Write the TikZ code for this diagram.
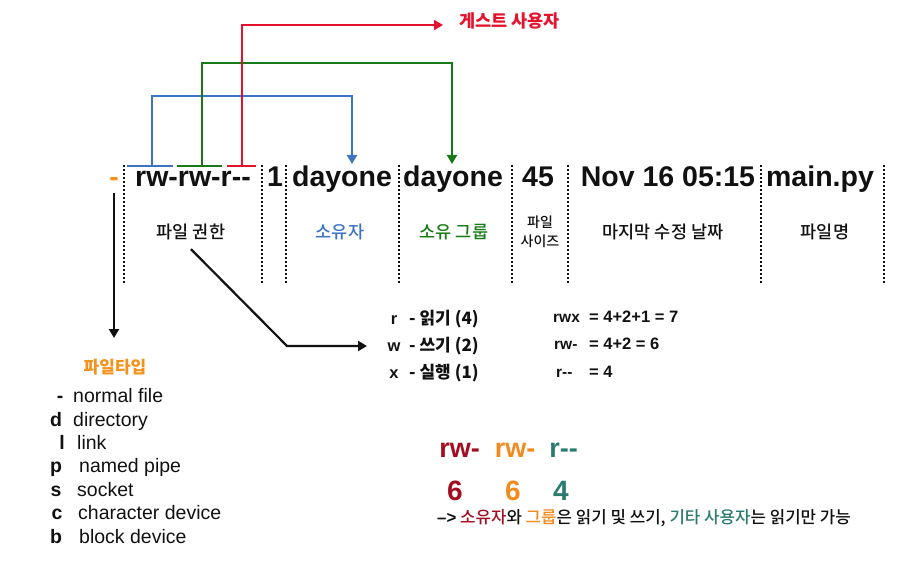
\documentclass[tikz,border=0pt]{standalone}
\usepackage{fontspec}
\setmainfont{Noto Sans CJK KR}
\newfontfamily\krmed{Noto Sans CJK KR Medium}
\newfontfamily\lat{Liberation Sans}
\usetikzlibrary{arrows.meta}
\definecolor{ink}{HTML}{111111}
\definecolor{ownblue}{HTML}{3A74C4}
\definecolor{grpgreen}{HTML}{187A16}
\definecolor{gstred}{HTML}{E4122C}
\definecolor{typeorange}{HTML}{F3931E}
\definecolor{ownred}{HTML}{A20E22}
\definecolor{grporange}{HTML}{F38A1D}
\definecolor{othteal}{HTML}{2B7A6F}

\begin{document}
\begin{tikzpicture}[
  x=1pt,y=-1pt,
  hdr/.style={font=\lat\bfseries\fontsize{28.5}{30}\selectfont,text=ink,anchor=base,inner sep=0pt},
  lbl/.style={font=\krmed\fontsize{17.5}{20}\selectfont,text=ink,align=center,inner sep=0pt},
  sep/.style={draw=ink,line width=2pt,dash pattern=on 2pt off 2pt},
  conn/.style={line width=2.2pt},
  arr/.style={conn,-{Triangle[length=9pt,width=10pt]}},
  item/.style={font=\lat\fontsize{19.5}{22}\selectfont,text=ink,anchor=mid west,inner sep=0pt},
  key/.style={font=\lat\bfseries\fontsize{19.5}{22}\selectfont,text=ink,anchor=mid,inner sep=0pt},
  bit/.style={font=\bfseries\fontsize{17}{19}\selectfont,text=ink,anchor=mid west,inner sep=0pt},
  eq/.style={font=\lat\bfseries\fontsize{16.5}{19}\selectfont,text=ink,anchor=mid west,inner sep=0pt},
  big/.style={font=\lat\bfseries\fontsize{27}{30}\selectfont,anchor=base,inner sep=0pt}
]
\useasboundingbox (0,0) rectangle (913,572);

% ls -l output line
\node[hdr,text=typeorange] (ftype) at (114,187) {-};
\node[hdr] (perm) at (193,187) {rw-rw-r--};
\node[hdr] (links) at (275,187) {1};
\node[hdr] (owner) at (342,187) {dayone};
\node[hdr] (group) at (453,187) {dayone};
\node[hdr] (size) at (538,187) {45};
\node[hdr] (mtime) at (668,187) {Nov 16 05:15};
\node[hdr] (fname) at (820,187) {main.py};

% column separators
\draw[sep] (124,165) -- (124,284);
\draw[sep] (262,165) -- (262,284);
\draw[sep] (286,165) -- (286,284);
\draw[sep] (398.5,165) -- (398.5,284);
\draw[sep] (512,165) -- (512,284);
\draw[sep] (568,165) -- (568,284);
\draw[sep] (761,165) -- (761,284);
\draw[sep] (884,165) -- (884,284);

% column labels
\node[lbl] (permlbl) at (191,232) {파일 권한};
\node[lbl,text=ownblue] (ownlbl) at (340,232) {소유자};
\node[lbl,text=grpgreen] (grplbl) at (454,232) {소유 그룹};
\node[lbl,font=\krmed\fontsize{14}{19.5}\selectfont] (sizelbl) at (540,232) {파일\\사이즈};
\node[lbl] (mtimelbl) at (663,232) {마지막 수정 날짜};
\node[lbl] (fnamelbl) at (825,232) {파일명};

% owner / group / other brackets
\coordinate (ownL) at (127,166);
\coordinate (ownR) at (173,166);
\coordinate (ownM) at (152,166);
\coordinate (ownTop) at (352,96);
\coordinate (ownIn) at (352,164);
\coordinate (grpL) at (177,166);
\coordinate (grpR) at (222,166);
\coordinate (grpM) at (202,166);
\coordinate (grpTop) at (452,63);
\coordinate (grpIn) at (452,164);
\coordinate (gstL) at (227,166);
\coordinate (gstR) at (256,166);
\coordinate (gstM) at (242,166);
\coordinate (gstEnd) at (443,25);
\node[font=\bfseries\fontsize{17.5}{20}\selectfont,text=gstred,anchor=mid west,inner sep=0pt] (guest) at (459,25) {게스트 사용자};

\draw[conn,ownblue] (ownL) -- (ownR);
\draw[arr,ownblue] (ownM) |- (ownTop) -- (ownIn);
\draw[conn,grpgreen] (grpL) -- (grpR);
\draw[arr,grpgreen] (grpM) |- (grpTop) -- (grpIn);
\draw[conn,gstred] (gstL) -- (gstR);
\draw[arr,gstred] (gstM) |- (gstEnd);

% file type legend
\coordinate (typeIn) at (114,338);
\node[font=\bfseries\fontsize{17}{20}\selectfont,text=typeorange] (typehdr) at (115,367) {파일타입};
\draw[arr,ink] (ftype.south) ++(0,6) -- (typeIn);

\node[key] (k1) at (60,400) {-};
\node[item] (t1) at (73,400) {normal file};
\node[key] (k2) at (56,423.4) {d};
\node[item] (t2) at (73,423.4) {directory};
\node[key] (k3) at (62,446.8) {l};
\node[item] (t3) at (77,446.8) {link};
\node[key] (k4) at (56,470.2) {p};
\node[item] (t4) at (79,470.2) {named pipe};
\node[key] (k5) at (56,493.6) {s};
\node[item] (t5) at (77,493.6) {socket};
\node[key] (k6) at (57,517) {c};
\node[item] (t6) at (78,517) {character device};
\node[key] (k7) at (56,540.4) {b};
\node[item] (t7) at (79,540.4) {block device};

% permission bits
\coordinate (bend) at (287,346);
\coordinate (rwxIn) at (367,346);
\draw[arr,ink] ([yshift=-9pt]permlbl.south) -- (bend) -- (rwxIn);

\node[eq,anchor=mid] (rk) at (394,322) {r};
\node[bit] (rv) at (409,322) {- 읽기 (4)};
\node[eq,anchor=mid] (wk) at (394,349) {w};
\node[bit] (wv) at (409,349) {- 쓰기 (2)};
\node[eq,anchor=mid] (xk) at (394,376) {x};
\node[bit] (xv) at (409,376) {- 실행 (1)};

\node[eq,font=\lat\bfseries\fontsize{15.5}{19}\selectfont] (eq1k) at (553,320) {rwx};
\node[eq] (eq1v) at (589,320) {= 4+2+1 = 7};
\node[eq,font=\lat\bfseries\fontsize{15.5}{19}\selectfont] (eq2k) at (554,347) {rw-};
\node[eq] (eq2v) at (589,347) {= 4+2 = 6};
\node[eq,font=\lat\bfseries\fontsize{15.5}{19}\selectfont] (eq3k) at (556,375) {r--};
\node[eq] (eq3v) at (589,375) {= 4};

% example 664
\node[big,text=ownred] (ownbits) at (459.5,457) {rw-};
\node[big,text=grporange] (grpbits) at (515,457) {rw-};
\node[big,text=othteal] (othbits) at (563.5,457) {r--};
\node[big,text=ownred,font=\lat\bfseries\fontsize{28}{30}\selectfont] (ownnum) at (455,500) {6};
\node[big,text=grporange,font=\lat\bfseries\fontsize{28}{30}\selectfont] (grpnum) at (513,500) {6};
\node[big,text=othteal,font=\lat\bfseries\fontsize{28}{30}\selectfont] (othnum) at (561,500) {4};
\node[font=\krmed\fontsize{16.8}{18}\selectfont,text=ink,anchor=mid west,inner sep=0pt] (summary) at (437,521)
  {{\lat\bfseries –>} \textcolor{ownred}{소유자}와 \textcolor{grporange}{그룹}은 읽기 및 쓰기, \textcolor{othteal}{기타 사용자}는 읽기만 가능};
\end{tikzpicture}
\end{document}
